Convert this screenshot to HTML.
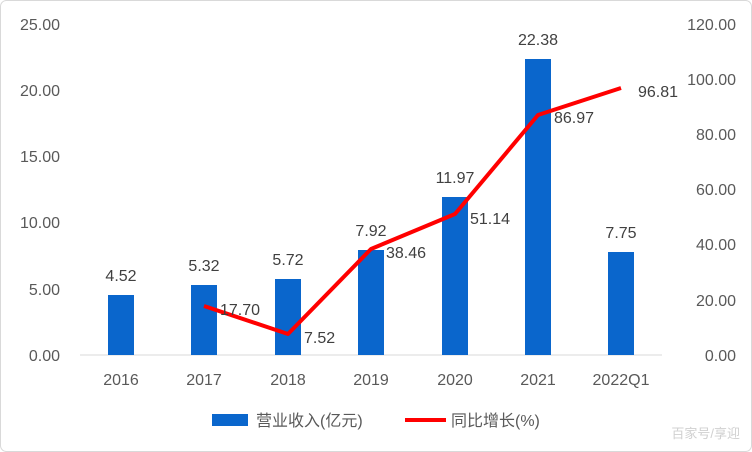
<!DOCTYPE html>
<html><head><meta charset="utf-8"><style>
body{margin:0;background:#fff;}
svg{display:block;font-family:"Liberation Sans","Noto Sans CJK SC",sans-serif;}
</style></head><body>
<svg width="752" height="452" viewBox="0 0 752 452">
<rect x="0.5" y="0.5" width="751" height="451" rx="6" fill="#fff" stroke="#d9d9d9"/>
<g font-size="16" fill="#595959" text-anchor="end">
<text x="60" y="30">25.00</text><text x="60" y="96">20.00</text><text x="60" y="162">15.00</text>
<text x="60" y="228">10.00</text><text x="60" y="295">5.00</text><text x="60" y="361">0.00</text>
</g>
<g font-size="16" fill="#595959" text-anchor="end">
<text x="736" y="30">120.00</text><text x="736" y="85">100.00</text><text x="736" y="140">80.00</text>
<text x="736" y="195">60.00</text><text x="736" y="250">40.00</text><text x="736" y="306">20.00</text><text x="736" y="361">0.00</text>
</g>
<line x1="80" y1="355" x2="662" y2="355" stroke="#d9d9d9"/>
<g fill="#0a66cc">
<rect x="108" y="295" width="26" height="60"/>
<rect x="191" y="285" width="26" height="70"/>
<rect x="275" y="279" width="26" height="76"/>
<rect x="358" y="250" width="26" height="105"/>
<rect x="442" y="197" width="26" height="158"/>
<rect x="525" y="59" width="26" height="296"/>
<rect x="608" y="252" width="26" height="103"/>
</g>
<g font-size="16" fill="#404040" text-anchor="middle">
<text x="121" y="281">4.52</text><text x="204" y="271">5.32</text><text x="288" y="265">5.72</text>
<text x="371" y="236">7.92</text><text x="455" y="183">11.97</text><text x="538" y="45">22.38</text><text x="621" y="238">7.75</text>
</g>
<polyline points="204,306 288,334 371,249 455,214 538,115 621,88" fill="none" stroke="#ff0000" stroke-width="4" stroke-linejoin="round"/>
<g font-size="16" fill="#404040">
<text x="220" y="315">17.70</text><text x="304" y="343">7.52</text><text x="386" y="258">38.46</text>
<text x="470" y="224">51.14</text><text x="554" y="123">86.97</text><text x="638" y="97">96.81</text>
</g>
<g font-size="16" fill="#595959" text-anchor="middle">
<text x="121" y="385">2016</text><text x="204" y="385">2017</text><text x="288" y="385">2018</text>
<text x="371" y="385">2019</text><text x="455" y="385">2020</text><text x="538" y="385">2021</text><text x="621" y="385">2022Q1</text>
</g>
<rect x="212" y="414" width="36" height="12" fill="#0a66cc"/>
<text x="256" y="426" font-size="16" fill="#595959">营业收入(亿元)</text>
<line x1="405" y1="420" x2="446" y2="420" stroke="#ff0000" stroke-width="4"/>
<text x="451" y="426" font-size="16" fill="#595959">同比增长(%)</text>
<text x="740" y="438" font-size="13" fill="#d0d0d0" text-anchor="end">百家号/享迎</text>
</svg>
</body></html>
